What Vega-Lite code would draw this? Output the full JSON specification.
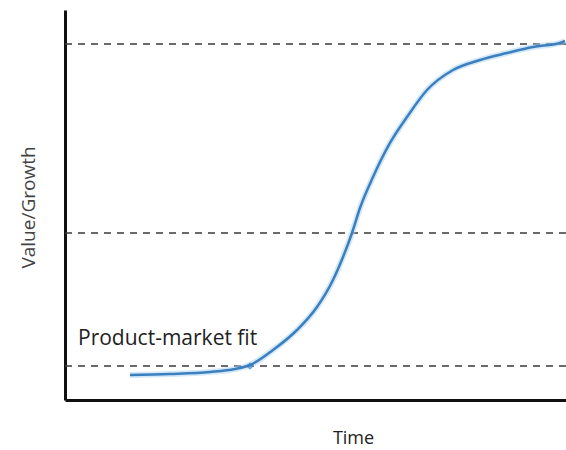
{
  "$schema": "https://vega.github.io/schema/vega-lite/v6.json",
  "width": 501,
  "height": 390,
  "autosize": "none",
  "padding": {"left": 65, "top": 10, "right": 0, "bottom": 50},
  "background": "white",
  "config": {"view": {"stroke": null}, "font": "Open Sans"},
  "datasets": {
    "curve": [
      {"t": 12.97, "v": 6.41},
      {"t": 20.96, "v": 6.67},
      {"t": 28.94, "v": 7.18},
      {"t": 33.93, "v": 7.95},
      {"t": 36.93, "v": 8.97},
      {"t": 41.52, "v": 12.82},
      {"t": 46.31, "v": 17.95},
      {"t": 50.3, "v": 23.85},
      {"t": 53.49, "v": 30.77},
      {"t": 55.49, "v": 36.67},
      {"t": 57.29, "v": 42.82},
      {"t": 58.88, "v": 49.23},
      {"t": 61.48, "v": 57.18},
      {"t": 64.87, "v": 65.9},
      {"t": 68.26, "v": 72.56},
      {"t": 72.26, "v": 79.49},
      {"t": 77.45, "v": 84.62},
      {"t": 82.83, "v": 87.18},
      {"t": 88.22, "v": 88.97},
      {"t": 93.41, "v": 90.51},
      {"t": 98.8, "v": 91.54},
      {"t": 99.8, "v": 92.05}
    ],
    "levels": [{"v": 91.3}, {"v": 42.8}, {"v": 8.7}],
    "labels": [{"t": 2.6, "v": 14.1, "label": "Product-market fit"}],
    "marker": [{"t": 36.93, "v": 8.72}]
  },
  "layer": [
    {
      "data": {"name": "levels"},
      "mark": {"type": "rule", "strokeDash": [7, 6], "color": "#3a3a3a", "strokeWidth": 1.5},
      "encoding": {
        "y": {"field": "v", "type": "quantitative", "scale": {"domain": [0, 100]}}
      }
    },
    {
      "data": {"name": "curve"},
      "mark": {"type": "line", "interpolate": "monotone", "color": "#a9d4f2", "strokeWidth": 6, "opacity": 0.5},
      "encoding": {
        "x": {"field": "t", "type": "quantitative", "scale": {"domain": [0, 100]}},
        "y": {"field": "v", "type": "quantitative", "scale": {"domain": [0, 100]}}
      }
    },
    {
      "data": {"name": "curve"},
      "mark": {"type": "line", "interpolate": "monotone", "color": "#3b7fbf", "strokeWidth": 2.5},
      "encoding": {
        "x": {
          "field": "t", "type": "quantitative", "scale": {"domain": [0, 100]},
          "axis": {
            "title": "Time", "labels": false, "ticks": false, "grid": false,
            "domainColor": "#111", "domainWidth": 3,
            "titleX": 288, "titleY": 38, "titleAlign": "center", "titleBaseline": "middle",
            "titleFontSize": 18, "titleFontWeight": 500, "titleColor": "#222"
          }
        },
        "y": {
          "field": "v", "type": "quantitative", "scale": {"domain": [0, 100]},
          "axis": {
            "title": "Value/Growth", "labels": false, "ticks": false, "grid": false,
            "domainColor": "#111", "domainWidth": 3,
            "titleX": -37, "titleY": 197, "titleAngle": -90, "titleAlign": "center", "titleBaseline": "middle",
            "titleFontSize": 19, "titleFontWeight": "normal", "titleColor": "#444"
          }
        }
      }
    },
    {
      "data": {"name": "marker"},
      "mark": {"type": "point", "shape": "diamond", "size": 30, "filled": false, "color": "#3b7fbf", "strokeWidth": 1.5},
      "encoding": {
        "x": {"field": "t", "type": "quantitative"},
        "y": {"field": "v", "type": "quantitative"}
      }
    },
    {
      "data": {"name": "labels"},
      "mark": {"type": "text", "align": "left", "baseline": "alphabetic", "fontSize": 21, "fontWeight": 500, "color": "#222"},
      "encoding": {
        "x": {"field": "t", "type": "quantitative"},
        "y": {"field": "v", "type": "quantitative"},
        "text": {"field": "label"}
      }
    }
  ]
}
